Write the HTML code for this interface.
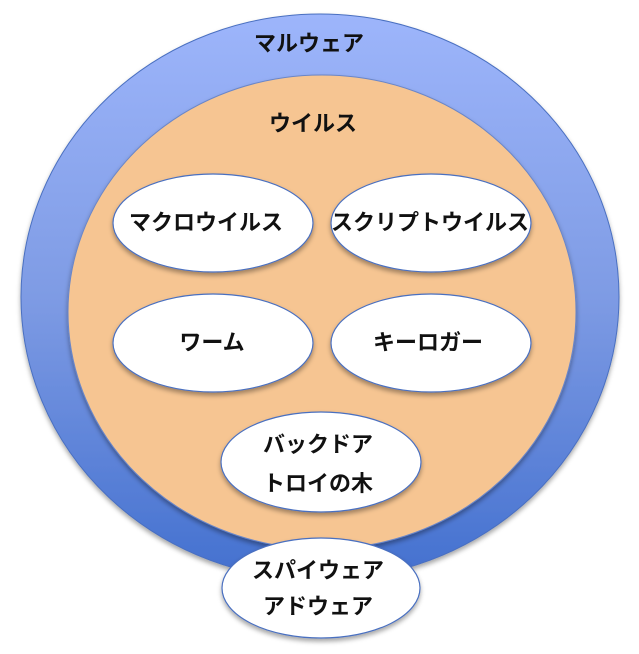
<!DOCTYPE html>
<html><head><meta charset="utf-8"><style>
body{margin:0;background:#fff;}
svg text{font-family:"Liberation Sans","Noto Sans CJK JP",sans-serif;font-weight:bold;font-size:22px;fill:#111;text-anchor:middle;}
</style></head><body>
<svg width="639" height="649" viewBox="0 0 639 649" xmlns="http://www.w3.org/2000/svg">
<defs>
<linearGradient id="bl" x1="0" y1="0" x2="0" y2="1">
<stop offset="0" stop-color="#9db5fb"/>
<stop offset="0.5" stop-color="#7e9be4"/>
<stop offset="1" stop-color="#4370cf"/>
</linearGradient>
<filter id="sh" x="-20%" y="-20%" width="140%" height="150%">
<feDropShadow dx="0" dy="3" stdDeviation="2.5" flood-color="#000" flood-opacity="0.35"/>
</filter>
</defs>
<ellipse cx="320" cy="297" rx="299" ry="283" fill="url(#bl)" stroke="#4a6fc0" stroke-width="1" filter="url(#sh)"/>
<ellipse cx="322" cy="312" rx="254" ry="237" fill="#f6c592" stroke="#6a86c8" stroke-width="1" filter="url(#sh)"/>
<g fill="#fff" stroke="#4a6fc0" stroke-width="1.2" filter="url(#sh)">
<ellipse cx="213" cy="223" rx="100" ry="49"/>
<ellipse cx="431" cy="223" rx="100" ry="49"/>
<ellipse cx="213" cy="343" rx="100" ry="49"/>
<ellipse cx="431" cy="343" rx="100" ry="49"/>
<ellipse cx="321" cy="462" rx="100" ry="50"/>
<ellipse cx="321" cy="588" rx="99" ry="50"/>
</g>
<text x="309" y="51">マルウェア</text>
<text x="313" y="131">ウイルス</text>
<text x="206" y="230">マクロウイルス</text>
<text x="430" y="230">スクリプトウイルス</text>
<text x="212" y="350">ワーム</text>
<text x="428" y="350">キーロガー</text>
<text x="318" y="452">バックドア</text>
<text x="318" y="491">トロイの木</text>
<text x="318" y="578">スパイウェア</text>
<text x="318" y="614">アドウェア</text>
</svg>
</body></html>
